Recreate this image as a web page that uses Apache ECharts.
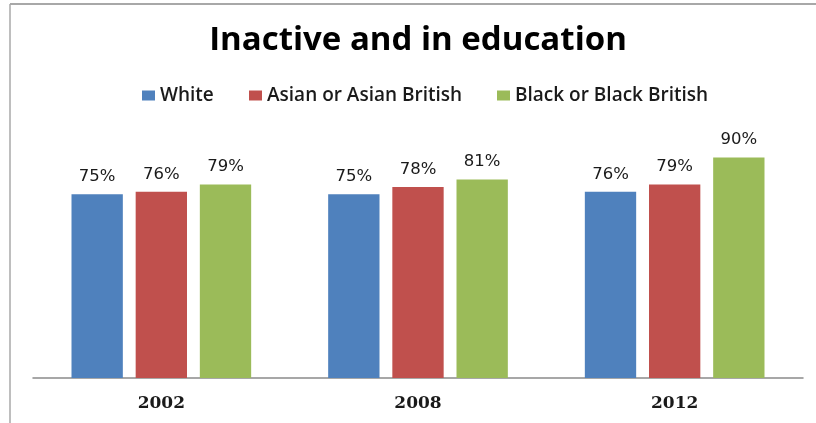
<!DOCTYPE html>
<html>
<head>
<meta charset="utf-8">
<script src="https://cdn.jsdelivr.net/npm/echarts@6/dist/echarts.min.js"></script>
<style>
  html, body { margin: 0; padding: 0; background: #ffffff; }
  #chart { width: 816px; height: 423px; }
</style>
</head>
<body>
<div id="chart"></div>
<script>
// Share of young people inactive and in education, by ethnic group
const years = ['2002', '2008', '2012'];
const seriesNames = ['White', 'Asian or Asian British', 'Black or Black British'];
const white = [75, 75, 76];
const asian = [76, 78, 79];
const black = [79, 81, 90];
const colors = ['#4f81bd', '#c0504d', '#9bbb59'];

const values = [white, asian, black];
const legendLeft = [142, 249, 497];

const chart = echarts.init(document.getElementById('chart'), null, { renderer: 'canvas' });

const labelStyle = {
  show: true,
  position: 'top',
  distance: 9,
  fontFamily: 'DejaVu Sans',
  fontSize: 16.5,
  color: '#1a1a1a',
  formatter: p => p.value + '%'
};

chart.setOption({
  backgroundColor: '#ffffff',
  animation: false,
  title: {
    text: 'Inactive and in education',
    left: 418,
    textAlign: 'center',
    top: 24,
    padding: 0,
    textStyle: {
      fontFamily: 'Open Sans',
      fontWeight: 'bold',
      fontSize: 33,
      color: '#000000'
    }
  },
  legend: seriesNames.map((name, i) => ({
    data: [name],
    left: legendLeft[i],
    top: 86,
    padding: 0,
    itemWidth: 13,
    itemHeight: 10,
    itemGap: 0,
    icon: 'rect',
    textStyle: {
      fontFamily: 'Open Sans',
      fontWeight: 600,
      fontSize: 19,
      color: '#1a1a1a'
    }
  })),
  grid: { left: 33, right: 13, top: 133, bottom: 45 },
  xAxis: {
    type: 'category',
    data: years,
    axisTick: { show: false },
    axisLine: { lineStyle: { color: '#8a8a8a', width: 1.5 } },
    axisLabel: {
      margin: 17,
      fontFamily: 'DejaVu Serif',
      fontWeight: 'bold',
      fontSize: 17,
      color: '#1a1a1a'
    }
  },
  yAxis: {
    type: 'value',
    min: 0,
    max: 100,
    show: false,
    splitLine: { show: false }
  },
  series: seriesNames.map((name, i) => ({
    name: name,
    type: 'bar',
    data: values[i],
    itemStyle: { color: colors[i] },
    barGap: '25%',
    barCategoryGap: '30%',
    label: labelStyle
  })),
  graphic: [
    { type: 'line', shape: { x1: 10, y1: 4, x2: 816, y2: 4 }, style: { stroke: '#a8a8a8', lineWidth: 2 } },
    { type: 'line', shape: { x1: 10, y1: 4, x2: 10, y2: 423 }, style: { stroke: '#a8a8a8', lineWidth: 1.5 } }
  ]
});
</script>
</body>
</html>
